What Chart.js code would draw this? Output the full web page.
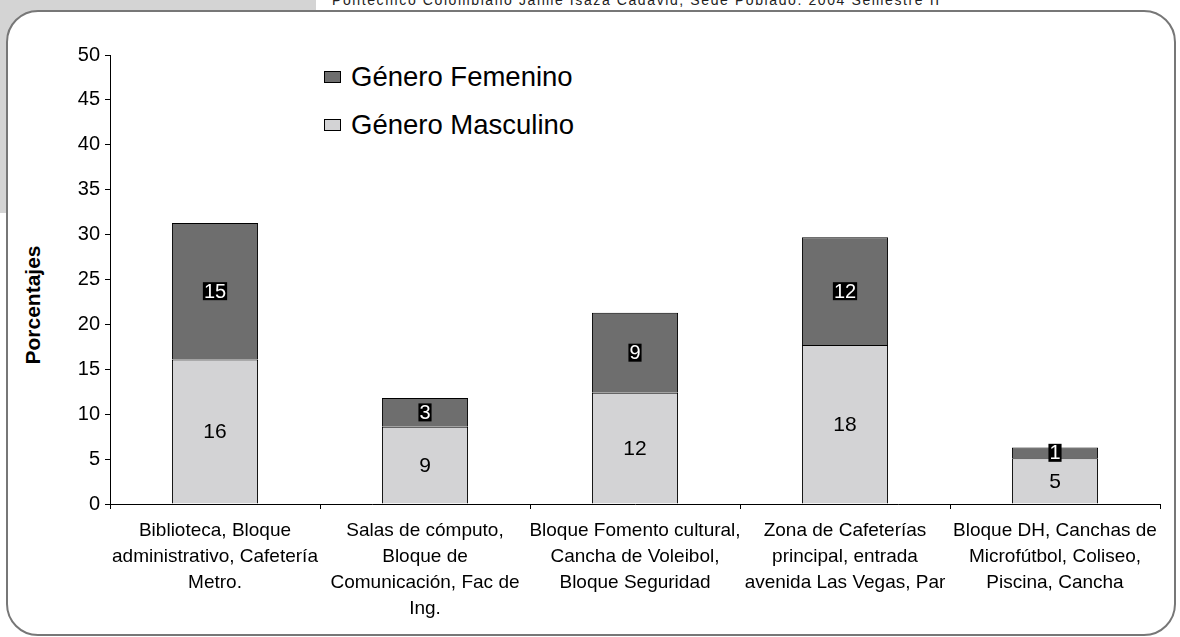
<!DOCTYPE html>
<html>
<head>
<meta charset="utf-8">
<script src="https://cdn.jsdelivr.net/npm/chart.js@4.4.0/dist/chart.umd.min.js"></script>
<style>
  html, body { margin: 0; padding: 0; background: #fff; }
  #page { position: relative; width: 1180px; height: 637px; overflow: hidden; font-family: "Liberation Sans", Arial, sans-serif; }
  .graybox { position: absolute; left: 0; top: 0; width: 316px; height: 213px; background: #d4d4d4; }
  .toptext { position: absolute; left: 332px; top: -8px; font-size: 14px; letter-spacing: 1.6px; color: #222; white-space: nowrap; }
  .frame { position: absolute; left: 6px; top: 10px; width: 1166px; height: 622px; border: 2px solid #777; border-radius: 32px; background: #fff; }
  .legend { position: absolute; left: 324px; top: 53px; font-size: 27.5px; color: #000; }
  .legend div { height: 48px; display: flex; align-items: center; }
  .legend span.box { display: inline-block; width: 15px; height: 10px; border: 1.5px solid #000; margin-right: 10px; }
  .ytitle { position: absolute; left: 33px; top: 305px; transform: translate(-50%, -50%) rotate(-90deg); font-size: 21px; font-weight: bold; color: #000; white-space: nowrap; }
  #wrap { position: absolute; left: 0; top: 0; width: 1180px; height: 637px; }
</style>
</head>
<body>
<div id="page">
  <div class="graybox"></div>
  <div class="toptext">Politécnico Colombiano Jaime Isaza Cadavid, Sede Poblado. 2004 Semestre II</div>
  <div class="frame"></div>
  <div class="legend">
    <div><span class="box" style="background:#6e6e6e"></span>Género Femenino</div>
    <div><span class="box" style="background:#d3d3d5"></span>Género Masculino</div>
  </div>
  <div class="ytitle">Porcentajes</div>
  <div id="wrap"><canvas id="chart"></canvas></div>
</div>
<script>
const categories = [
  ['Biblioteca, Bloque', 'administrativo, Cafetería', 'Metro.'],
  ['Salas de cómputo,', 'Bloque de', 'Comunicación, Fac de', 'Ing.'],
  ['Bloque Fomento cultural,', 'Cancha de Voleibol,', 'Bloque Seguridad'],
  ['Zona de Cafeterías', 'principal, entrada', 'avenida Las Vegas, Par'],
  ['Bloque DH, Canchas de', 'Microfútbol, Coliseo,', 'Piscina, Cancha']
];
const masculino = [16.1, 8.6, 12.4, 17.7, 5.1];
const femenino = [15.2, 3.2, 8.9, 12.0, 1.2];
const yMin = 0;
const yMax = 50;
const yStep = 5;

const FONT = '"Liberation Sans", Arial, sans-serif';

// draws the rounded value in the middle of every segment
const segmentLabels = {
  id: 'segmentLabels',
  afterDatasetsDraw(chart) {
    const ctx = chart.ctx;
    ctx.save();
    ctx.textAlign = 'center';
    ctx.textBaseline = 'middle';
    chart.data.datasets.forEach((ds, di) => {
      const meta = chart.getDatasetMeta(di);
      meta.data.forEach((bar, i) => {
        const p = bar.getProps(['x', 'y', 'base'], true);
        const cy = (p.y + p.base) / 2;
        const txt = String(Math.round(ds.data[i]));
        if (ds.boxed) {
          ctx.font = '20px ' + FONT;
          const w = ctx.measureText(txt).width;
          ctx.fillStyle = '#000';
          ctx.fillRect(p.x - w / 2 - 1, cy - 9, w + 2, 18);
          ctx.fillStyle = '#fff';
          ctx.fillText(txt, p.x, cy + 1);
        } else {
          ctx.font = '21px ' + FONT;
          ctx.fillStyle = '#000';
          ctx.fillText(txt, p.x, cy + 1);
        }
      });
    });
    ctx.restore();
  }
};

new Chart(document.getElementById('chart'), {
  type: 'bar',
  data: {
    labels: categories,
    datasets: [
      {
        label: 'Género Masculino',
        data: masculino,
        backgroundColor: '#d3d3d5',
        borderColor: '#000',
        borderWidth: 1,
        boxed: false
      },
      {
        label: 'Género Femenino',
        data: femenino,
        backgroundColor: '#6e6e6e',
        borderColor: '#000',
        borderWidth: 1,
        boxed: true
      }
    ]
  },
  options: {
    responsive: true,
    maintainAspectRatio: false,
    animation: false,
    layout: { padding: { top: 55, right: 20, bottom: 0, left: 0 } },
    datasets: { bar: { barPercentage: 0.41, categoryPercentage: 1 } },
    plugins: {
      legend: { display: false },
      tooltip: { enabled: false }
    },
    scales: {
      x: {
        stacked: true,
        afterFit(scale) { scale.height = 133; },
        grid: { drawOnChartArea: false, drawTicks: true, tickLength: 5, color: '#000', offset: true },
        border: { color: '#000', width: 1 },
        ticks: {
          color: '#000',
          padding: 9,
          maxRotation: 0,
          autoSkip: false,
          font: { family: FONT, size: 19, lineHeight: 26 / 19 }
        }
      },
      y: {
        stacked: true,
        min: yMin,
        max: yMax,
        afterFit(scale) { scale.width = 110; },
        grid: { drawOnChartArea: false, drawTicks: true, tickLength: 5, color: '#000' },
        border: { color: '#000', width: 1 },
        ticks: {
          stepSize: yStep,
          color: '#000',
          padding: 5,
          font: { family: FONT, size: 20 }
        }
      }
    }
  },
  plugins: [segmentLabels]
});
</script>
</body>
</html>
